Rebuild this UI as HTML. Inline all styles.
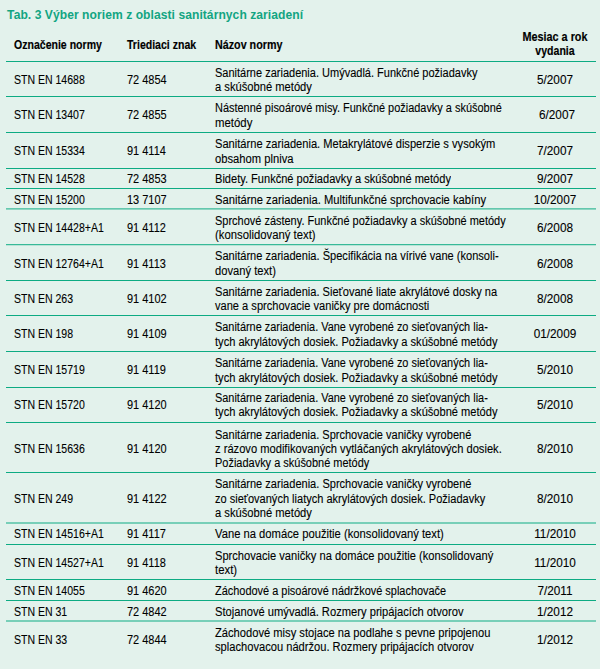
<!DOCTYPE html>
<html><head><meta charset="utf-8"><style>
html,body{margin:0;padding:0;}
body{width:600px;height:669px;background:#e3f2ec;position:relative;overflow:hidden;font-family:"Liberation Sans",sans-serif;color:#000;}
div{position:absolute;white-space:nowrap;}
.title{font-weight:bold;font-size:12.1px;line-height:12.1px;color:#12a582;letter-spacing:0.05px;}
.h{font-weight:bold;font-size:12.2px;line-height:12px;transform-origin:0 0;transform:scaleX(0.865);-webkit-text-stroke:0.15px #000;}
.h.c{transform-origin:50% 0;}
.c1,.c2,.c3,.c4{font-size:12px;line-height:12px;transform-origin:0 0;-webkit-text-stroke:0.1px #000;}
.c1{transform:scaleX(0.877);}
.c2{transform:scaleX(0.915);}
.c3{transform:scaleX(0.921);}
.c4{transform:scaleX(0.98);transform-origin:50% 0;}
.c{width:120px;text-align:center;}
.ln{left:6px;width:590px;height:1px;background:#0dab83;}
</style></head><body>
<div class="title" style="top:8.6px;left:7.1px">Tab. 3 Výber noriem z oblasti sanitárnych zariadení</div>
<div class="h" style="top:38.90px;left:13.70px">Označenie normy</div>
<div class="h" style="top:38.90px;left:126.80px">Triediaci znak</div>
<div class="h" style="top:38.90px;left:215.00px;transform:scaleX(0.8810)">Názov normy</div>
<div class="h c" style="top:30.80px;left:494.50px;transform:scaleX(0.8880)">Mesiac a rok</div>
<div class="h c" style="top:45.00px;left:494.50px">vydania</div>
<div class="ln" style="top:61px"></div>
<div class="ln" style="top:96px"></div>
<div class="ln" style="top:132px"></div>
<div class="ln" style="top:168px"></div>
<div class="ln" style="top:188px"></div>
<div class="ln" style="top:208px;opacity:0.60"></div>
<div class="ln" style="top:209px;opacity:0.40"></div>
<div class="ln" style="top:244px;opacity:0.80"></div>
<div class="ln" style="top:245px;opacity:0.20"></div>
<div class="ln" style="top:280px"></div>
<div class="ln" style="top:315px"></div>
<div class="ln" style="top:351px"></div>
<div class="ln" style="top:387px"></div>
<div class="ln" style="top:422px"></div>
<div class="ln" style="top:472px"></div>
<div class="ln" style="top:522px;opacity:0.50"></div>
<div class="ln" style="top:523px;opacity:0.50"></div>
<div class="ln" style="top:544px"></div>
<div class="ln" style="top:579px"></div>
<div class="ln" style="top:600px"></div>
<div class="ln" style="top:620px;opacity:0.50"></div>
<div class="ln" style="top:621px;opacity:0.50"></div>
<div class="c1" style="top:73.90px;left:13.90px">STN EN 14688</div>
<div class="c2" style="top:73.90px;left:126.80px">72 4854</div>
<div class="c3" style="top:66.80px;left:215.00px;transform:scaleX(0.9170)">Sanitárne zariadenia. Umývadlá. Funkčné požiadavky</div>
<div class="c3" style="top:81.00px;left:215.00px;transform:scaleX(0.9312)">a skúšobné metódy</div>
<div class="c4 c" style="top:73.90px;left:494.50px">5/2007</div>
<div class="c1" style="top:109.40px;left:13.90px">STN EN 13407</div>
<div class="c2" style="top:109.40px;left:126.80px">72 4855</div>
<div class="c3" style="top:102.30px;left:215.00px;transform:scaleX(0.9116)">Nástenné pisoárové misy. Funkčné požiadavky a skúšobné</div>
<div class="c3" style="top:116.50px;left:215.00px;transform:scaleX(0.9500)">metódy</div>
<div class="c4 c" style="top:109.40px;left:496.90px">6/2007</div>
<div class="c1" style="top:145.40px;left:13.90px">STN EN 15334</div>
<div class="c2" style="top:145.40px;left:126.80px">91 4114</div>
<div class="c3" style="top:138.30px;left:215.00px;transform:scaleX(0.9277)">Sanitárne zariadenia. Metakrylátové disperzie s vysokým</div>
<div class="c3" style="top:152.50px;left:215.00px;transform:scaleX(0.9338)">obsahom plniva</div>
<div class="c4 c" style="top:145.40px;left:494.50px">7/2007</div>
<div class="c1" style="top:173.40px;left:13.90px">STN EN 14528</div>
<div class="c2" style="top:173.40px;left:126.80px">72 4853</div>
<div class="c3" style="top:173.40px;left:215.00px;transform:scaleX(0.9218)">Bidety. Funkčné požiadavky a skúšobné metódy</div>
<div class="c4 c" style="top:173.40px;left:494.50px">9/2007</div>
<div class="c1" style="top:193.60px;left:13.90px">STN EN 15200</div>
<div class="c2" style="top:193.60px;left:126.80px">13 7107</div>
<div class="c3" style="top:193.60px;left:215.00px;transform:scaleX(0.9339)">Sanitárne zariadenia. Multifunkčné sprchovacie kabíny</div>
<div class="c4 c" style="top:193.60px;left:494.50px">10/2007</div>
<div class="c1" style="top:221.70px;left:13.90px">STN EN 14428+A1</div>
<div class="c2" style="top:221.70px;left:126.80px">91 4112</div>
<div class="c3" style="top:214.60px;left:215.00px;transform:scaleX(0.9143)">Sprchové zásteny. Funkčné požiadavky a skúšobné metódy</div>
<div class="c3" style="top:228.80px;left:215.00px;transform:scaleX(0.9427)">(konsolidovaný text)</div>
<div class="c4 c" style="top:221.70px;left:494.50px">6/2008</div>
<div class="c1" style="top:257.50px;left:13.90px">STN EN 12764+A1</div>
<div class="c2" style="top:257.50px;left:126.80px">91 4113</div>
<div class="c3" style="top:250.40px;left:215.00px;transform:scaleX(0.9223)">Sanitárne zariadenia. Špecifikácia na vírivé vane (konsoli-</div>
<div class="c3" style="top:264.60px;left:215.00px;transform:scaleX(0.9315)">dovaný text)</div>
<div class="c4 c" style="top:257.50px;left:494.50px">6/2008</div>
<div class="c1" style="top:292.90px;left:13.90px">STN EN 263</div>
<div class="c2" style="top:292.90px;left:126.80px">91 4102</div>
<div class="c3" style="top:285.80px;left:215.00px;transform:scaleX(0.9218)">Sanitárne zariadenia. Sieťované liate akrylátové dosky na</div>
<div class="c3" style="top:300.00px;left:215.00px;transform:scaleX(0.9232)">vane a sprchovacie vaničky pre domácnosti</div>
<div class="c4 c" style="top:292.90px;left:494.50px">8/2008</div>
<div class="c1" style="top:328.40px;left:13.90px">STN EN 198</div>
<div class="c2" style="top:328.40px;left:126.80px">91 4109</div>
<div class="c3" style="top:321.30px;left:215.00px;transform:scaleX(0.9099)">Sanitárne zariadenia. Vane vyrobené zo sieťovaných lia-</div>
<div class="c3" style="top:335.50px;left:215.00px;transform:scaleX(0.9248)">tych akrylátových dosiek. Požiadavky a skúšobné metódy</div>
<div class="c4 c" style="top:328.40px;left:494.50px">01/2009</div>
<div class="c1" style="top:364.40px;left:13.90px">STN EN 15719</div>
<div class="c2" style="top:364.40px;left:126.80px">91 4119</div>
<div class="c3" style="top:357.30px;left:215.00px;transform:scaleX(0.9099)">Sanitárne zariadenia. Vane vyrobené zo sieťovaných lia-</div>
<div class="c3" style="top:371.50px;left:215.00px;transform:scaleX(0.9248)">tych akrylátových dosiek. Požiadavky a skúšobné metódy</div>
<div class="c4 c" style="top:364.40px;left:494.50px">5/2010</div>
<div class="c1" style="top:399.10px;left:13.90px">STN EN 15720</div>
<div class="c2" style="top:399.10px;left:126.80px">91 4120</div>
<div class="c3" style="top:392.00px;left:215.00px;transform:scaleX(0.9099)">Sanitárne zariadenia. Vane vyrobené zo sieťovaných lia-</div>
<div class="c3" style="top:406.20px;left:215.00px;transform:scaleX(0.9248)">tych akrylátových dosiek. Požiadavky a skúšobné metódy</div>
<div class="c4 c" style="top:399.10px;left:494.50px">5/2010</div>
<div class="c1" style="top:443.20px;left:13.90px">STN EN 15636</div>
<div class="c2" style="top:443.20px;left:126.80px">91 4120</div>
<div class="c3" style="top:429.00px;left:215.00px;transform:scaleX(0.9192)">Sanitárne zariadenia. Sprchovacie vaničky vyrobené</div>
<div class="c3" style="top:443.20px;left:215.00px;transform:scaleX(0.9287)">z rázovo modifikovaných vytláčaných akrylátových dosiek.</div>
<div class="c3" style="top:457.40px;left:215.00px;transform:scaleX(0.9143)">Požiadavky a skúšobné metódy</div>
<div class="c4 c" style="top:443.20px;left:494.50px">8/2010</div>
<div class="c1" style="top:492.65px;left:13.90px">STN EN 249</div>
<div class="c2" style="top:492.65px;left:126.80px">91 4122</div>
<div class="c3" style="top:478.45px;left:215.00px;transform:scaleX(0.9199)">Sanitárne zariadenia. Sprchovacie vaničky vyrobené</div>
<div class="c3" style="top:492.65px;left:215.00px;transform:scaleX(0.9191)">zo sieťovaných liatych akrylátových dosiek. Požiadavky</div>
<div class="c3" style="top:506.85px;left:215.00px;transform:scaleX(0.9312)">a skúšobné metódy</div>
<div class="c4 c" style="top:492.65px;left:494.50px">8/2010</div>
<div class="c1" style="top:527.85px;left:13.90px">STN EN 14516+A1</div>
<div class="c2" style="top:527.85px;left:126.80px">91 4117</div>
<div class="c3" style="top:527.85px;left:215.00px;transform:scaleX(0.9354)">Vane na domáce použitie (konsolidovaný text)</div>
<div class="c4 c" style="top:527.85px;left:494.50px">11/2010</div>
<div class="c1" style="top:556.90px;left:13.90px">STN EN 14527+A1</div>
<div class="c2" style="top:556.90px;left:126.80px">91 4118</div>
<div class="c3" style="top:549.80px;left:215.00px;transform:scaleX(0.9268)">Sprchovacie vaničky na domáce použitie (konsolidovaný</div>
<div class="c3" style="top:564.00px;left:215.00px;transform:scaleX(0.9500)">text)</div>
<div class="c4 c" style="top:556.90px;left:494.50px">11/2010</div>
<div class="c1" style="top:584.90px;left:13.90px">STN EN 14055</div>
<div class="c2" style="top:584.90px;left:126.80px">91 4620</div>
<div class="c3" style="top:584.90px;left:215.00px;transform:scaleX(0.9120)">Záchodové a pisoárové nádržkové splachovače</div>
<div class="c4 c" style="top:584.90px;left:494.50px">7/2011</div>
<div class="c1" style="top:605.65px;left:13.90px">STN EN 31</div>
<div class="c2" style="top:605.65px;left:126.80px">72 4842</div>
<div class="c3" style="top:605.65px;left:215.00px;transform:scaleX(0.9314)">Stojanové umývadlá. Rozmery pripájacích otvorov</div>
<div class="c4 c" style="top:605.65px;left:494.50px">1/2012</div>
<div class="c1" style="top:633.90px;left:13.90px">STN EN 33</div>
<div class="c2" style="top:633.90px;left:126.80px">72 4844</div>
<div class="c3" style="top:626.80px;left:215.00px;transform:scaleX(0.9298)">Záchodové misy stojace na podlahe s pevne pripojenou</div>
<div class="c3" style="top:641.00px;left:215.00px;transform:scaleX(0.9279)">splachovacou nádržou. Rozmery pripájacích otvorov</div>
<div class="c4 c" style="top:633.90px;left:494.50px">1/2012</div>
</body></html>
